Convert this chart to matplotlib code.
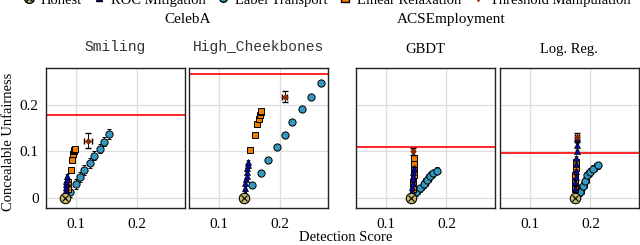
import matplotlib.pyplot as plt
from matplotlib.lines import Line2D

plt.rcParams['font.family'] = ['Liberation Serif', 'DejaVu Serif']

panel_titles = ["Smiling", "High_Cheekbones", "GBDT", "Log. Reg."]
panel_mono = [True, True, False, False]
group_titles = ["CelebA", "ACSEmployment"]

# red line: unfairness of the honest model
red_line = [0.177, 0.265, 0.1085, 0.0964]

# Honest
honest_x = [0.082, 0.141, 0.141, 0.175]
honest_y = [0.0, 0.0, 0.0, 0.0]

# ROC Mitigation
roc_x = [
    [0.082, 0.082, 0.083, 0.083, 0.084, 0.084, 0.085, 0.085],
    [0.142, 0.143, 0.143, 0.144, 0.145, 0.145, 0.146, 0.147, 0.148],
    [0.143, 0.144, 0.144, 0.145, 0.145, 0.145, 0.145, 0.146],
    [0.174, 0.175, 0.175, 0.176, 0.176, 0.177, 0.177, 0.178, 0.178, 0.178],
]
roc_y = [
    [0.005, 0.012, 0.018, 0.024, 0.030, 0.036, 0.042, 0.047],
    [0.012, 0.022, 0.032, 0.040, 0.048, 0.056, 0.064, 0.071, 0.078],
    [0.008, 0.016, 0.024, 0.032, 0.040, 0.048, 0.056, 0.064],
    [0.010, 0.022, 0.034, 0.046, 0.058, 0.072, 0.086, 0.100, 0.114, 0.128],
]

# Label Transport
lt_x = [
    [0.0905, 0.0994, 0.107, 0.113, 0.123, 0.130, 0.1395, 0.1466, 0.154],
    [0.154, 0.169, 0.181, 0.1955, 0.208, 0.220, 0.236, 0.251, 0.268],
    [0.150, 0.157, 0.1635, 0.168, 0.173, 0.178, 0.184],
    [0.1836, 0.188, 0.1915, 0.195, 0.199, 0.205, 0.212],
]
lt_y = [
    [0.0135, 0.030, 0.045, 0.060, 0.075, 0.0906, 0.1056, 0.121, 0.137],
    [0.028, 0.054, 0.082, 0.109, 0.1356, 0.163, 0.1906, 0.217, 0.2456],
    [0.0135, 0.021, 0.030, 0.039, 0.047, 0.053, 0.059],
    [0.0135, 0.026, 0.037, 0.049, 0.056, 0.063, 0.070],
]
lt_xerr = [0.004, 0.003, 0.006, 0.006]
lt_yerr = [0.010, 0.006, 0.008, 0.008]

# Linear Relaxation
lr_x = [
    [0.086, 0.087, 0.091, 0.093, 0.095, 0.096, 0.097, 0.098],
    [0.151, 0.159, 0.1625, 0.165, 0.167, 0.1685, 0.169],
    [0.145, 0.145, 0.146, 0.146, 0.146, 0.146],
    [0.174, 0.175, 0.175, 0.176, 0.176],
]
lr_y = [
    [0.020, 0.035, 0.061, 0.081, 0.095, 0.100, 0.104, 0.105],
    [0.102, 0.135, 0.158, 0.169, 0.178, 0.185, 0.187],
    [0.020, 0.035, 0.050, 0.062, 0.074, 0.085],
    [0.020, 0.035, 0.050, 0.064, 0.078],
]

# Threshold Manipulation
tm_x = [0.120, 0.208, 0.145, 0.178]
tm_y = [0.1227, 0.217, 0.100, 0.130]
tm_xerr = [0.006, 0.004, 0.002, 0.003]
tm_yerr = [0.016, 0.012, 0.008, 0.009]

c_honest = "#c9bb6c"
c_roc = "#0a0aa8"
c_lt = "#3399c0"
c_lr = "#f07d00"
c_tm = "#8b2a00"

fig = plt.figure(figsize=(6.4, 2.45), dpi=100)
lefts = [0.0714, 0.2953, 0.5555, 0.7805]
width, bottom, height = 0.2177, 0.151, 0.571

for i in range(4):
    ax = fig.add_axes([lefts[i], bottom, width, height])
    ax.set_xlim(0.05, 0.28)
    ax.set_ylim(-0.021, 0.278)
    ax.set_xticks([0.1, 0.2])
    ax.set_yticks([0, 0.1, 0.2])
    ax.set_xticklabels(["0.1", "0.2"])
    if i == 0:
        ax.set_yticklabels(["0", "0.1", "0.2"])
        ax.set_ylabel("Concealable Unfairness", fontsize=10.5)
        ax.yaxis.set_label_coords(-0.22, 0.47)
    else:
        ax.set_yticklabels([])
    ax.tick_params(axis="x", length=0, labelsize=11, pad=7)
    ax.tick_params(axis="y", length=0, labelsize=11, pad=5)
    ax.grid(True, color="#dddddd", lw=0.9)
    ax.set_axisbelow(True)
    for s in ax.spines.values():
        s.set_color("#222222")
        s.set_linewidth(1.0)

    ax.axhline(red_line[i], color="red", lw=1.2, zorder=2)

    ax.errorbar(lt_x[i], lt_y[i], xerr=lt_xerr[i], yerr=lt_yerr[i], fmt="o",
                ms=5.2, mfc=c_lt, mec="black", mew=0.7, ecolor="black",
                elinewidth=0.6, capsize=1.5, zorder=3)
    ax.errorbar(lr_x[i], lr_y[i], xerr=0.001, yerr=0.004, fmt="s", ms=4.8,
                mfc=c_lr, mec="black", mew=0.7, ecolor="black",
                elinewidth=0.6, capsize=1.5, zorder=4)
    ax.errorbar(roc_x[i], roc_y[i], xerr=0.001, yerr=0.004, fmt="^", ms=4,
                mfc=c_roc, mec="black", mew=0.5, ecolor="black",
                elinewidth=0.6, capsize=1.5, zorder=5)
    ax.errorbar(tm_x[i], tm_y[i], xerr=tm_xerr[i], yerr=tm_yerr[i], fmt="D",
                ms=2.5, mfc=c_tm, mec=c_tm, ecolor="black",
                elinewidth=0.7, capsize=2, zorder=6)
    ax.plot(honest_x[i], honest_y[i], "o", ms=7.5, mfc=c_honest, mec="black",
            mew=0.8, zorder=7)
    ax.plot(honest_x[i], honest_y[i], "x", ms=4.5, color="black", mew=0.8,
            zorder=8)

    if panel_mono[i]:
        ax.set_title(panel_titles[i], family="Liberation Mono", fontsize=10.5,
                     color="#333333", pad=12)
    else:
        ax.set_title(panel_titles[i], fontsize=10.5, pad=11)

fig.text(0.293, 0.92, group_titles[0], ha="center", va="center", fontsize=11)
fig.text(0.705, 0.92, group_titles[1], ha="center", va="center", fontsize=11)
fig.text(0.54, 0.03, "Detection Score", ha="center", va="center", fontsize=10.5)

handles = [
    (Line2D([], [], ls="", marker="o", ms=7, mfc=c_honest, mec="black"),
     Line2D([], [], ls="", marker="x", ms=4.5, color="black")),
    Line2D([], [], ls="", marker="^", ms=5, mfc=c_roc, mec="black"),
    Line2D([], [], ls="", marker="o", ms=5.5, mfc=c_lt, mec="black"),
    Line2D([], [], ls="", marker="s", ms=5.5, mfc=c_lr, mec="black"),
    Line2D([], [], ls="", marker="v", ms=5, mfc=c_tm, mec=c_tm),
]
labels = ["Honest", "ROC Mitigation", "Label Transport", "Linear Relaxation",
          "Threshold Manipulation"]
fig.legend(handles, labels, loc="center", bbox_to_anchor=(0.511, 1.0),
           ncol=5, frameon=False, fontsize=10.5, handletextpad=0.4,
           columnspacing=0.8, handlelength=0.8)

fig.savefig("out.png", dpi=100)
